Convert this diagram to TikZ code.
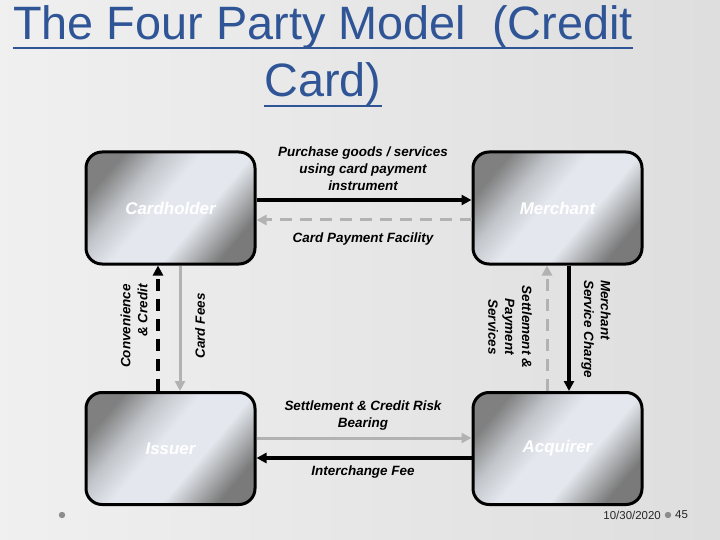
\documentclass[tikz,border=0pt]{standalone}
\usepackage{fontspec}
\setmainfont{Liberation Sans}
\usepackage{tikz}
\usetikzlibrary{positioning,arrows.meta,calc}
\definecolor{titleblue}{HTML}{2F5597}
\definecolor{linegray}{gray}{0.70}
\definecolor{boxlight}{HTML}{E4E8EE}
\pgfdeclarehorizontalshading{partyshade}{100bp}{color(0bp)=(black!50); color(25bp)=(black!50);
  color(36bp)=(boxlight!85!black); color(46bp)=(boxlight); color(60bp)=(boxlight);
  color(75bp)=(black!52); color(100bp)=(black!52)}

\begin{document}
\begin{tikzpicture}[x=1bp,y=-1bp,
  every node/.style={font=\fontsize{13.5}{17}\selectfont\bfseries\itshape},
  party/.style={draw=black,line width=3bp,rounded corners=16bp,
    minimum width=169bp,minimum height=112bp,
    shading=partyshade,shading angle=-40,
    text=white,font=\fontsize{17}{20}\selectfont\bfseries\itshape},
  lbl/.style={align=center,inner sep=0pt},
  title/.style={text=titleblue,inner sep=0pt,anchor=base,font=\fontsize{47}{55}\selectfont},
  titlerule/.style={titleblue,line width=2.5bp},
  flow/.style={line width=3.5bp,-{Triangle[length=10bp,width=10bp]}},
  back/.style={line width=3bp,linegray,-{Triangle[length=10bp,width=10bp]}},
  dashes/.style={dash pattern=on 12bp off 8bp},
  footer/.style={font=\fontsize{11.5}{13}\selectfont,text=black!85,inner sep=0pt} ]
  \shade[left color=black!6,middle color=white,right color=black!13]
    (0,0) rectangle (720,540);
  \useasboundingbox (0,0) rectangle (720,540);

  \node[title] (t1) at (323,40) {The Four Party Model\ \ (Credit};
  \node[title] (t2) at (323,97) {Card)};
  \draw[titlerule] ([yshift=-8bp]t1.base west) -- ([yshift=-8bp]t1.base east);
  \draw[titlerule] ([yshift=-9bp]t2.base west) -- ([yshift=-9bp]t2.base east);

  \node[party] (ch)  at (170.5,208)   {Cardholder};
  \node[party] (mer) at (557.5,208)   {Merchant};
  \node[party] (iss) at (170.5,448.5) {Issuer};
  \node[party] (acq) at (557.5,448.5) {Acquirer};

  \draw[flow] ([yshift=8bp]ch.east) -- ([yshift=8bp]mer.west);
  \draw[back,dashes] ([yshift=-12bp]mer.west) -- ([yshift=-12bp]ch.east);
  \draw[flow,dashes] ([xshift=-12.5bp]iss.north) -- ([xshift=-12.5bp]ch.south);
  \draw[back] ([xshift=9.5bp]ch.south) -- ([xshift=9.5bp]iss.north);
  \draw[back,dashes] ([xshift=-10.5bp]acq.north) -- ([xshift=-10.5bp]mer.south);
  \draw[flow] ([xshift=11.5bp]mer.south) -- ([xshift=11.5bp]acq.north);
  \draw[back] ([yshift=10.5bp]iss.east) -- ([yshift=10.5bp]acq.west);
  \draw[flow] ([yshift=-9.5bp]acq.west) -- ([yshift=-9.5bp]iss.east);

  \node[lbl] (purchase) at (363,169) {Purchase goods / services\\using card payment\\instrument};
  \node[lbl] (facility) at (363,239) {Card Payment Facility};
  \node[lbl,rotate=90,align=right] (conv) at (134,326) {Convenience\\\& Credit};
  \node[lbl,rotate=90] (fees) at (200,326) {Card Fees};
  \node[lbl,rotate=-90] (settle) at (510,327) {Settlement \&\\Payment\\Services};
  \node[lbl,rotate=-90,align=left] (charge) at (596,329) {Merchant\\Service Charge};
  \node[lbl] (risk) at (363,415.5) {Settlement \& Credit Risk\\Bearing};
  \node[lbl] (interchange) at (363,472) {Interchange Fee};

  \fill[black!45] (62,515) circle (3.2bp);
  \node[footer,anchor=east] (date) at (661,515) {10/30/2020};
  \fill[black!45] (668,515) circle (3.2bp);
  \node[footer,anchor=west] (page) at (675,515) {45};
\end{tikzpicture}
\end{document}
